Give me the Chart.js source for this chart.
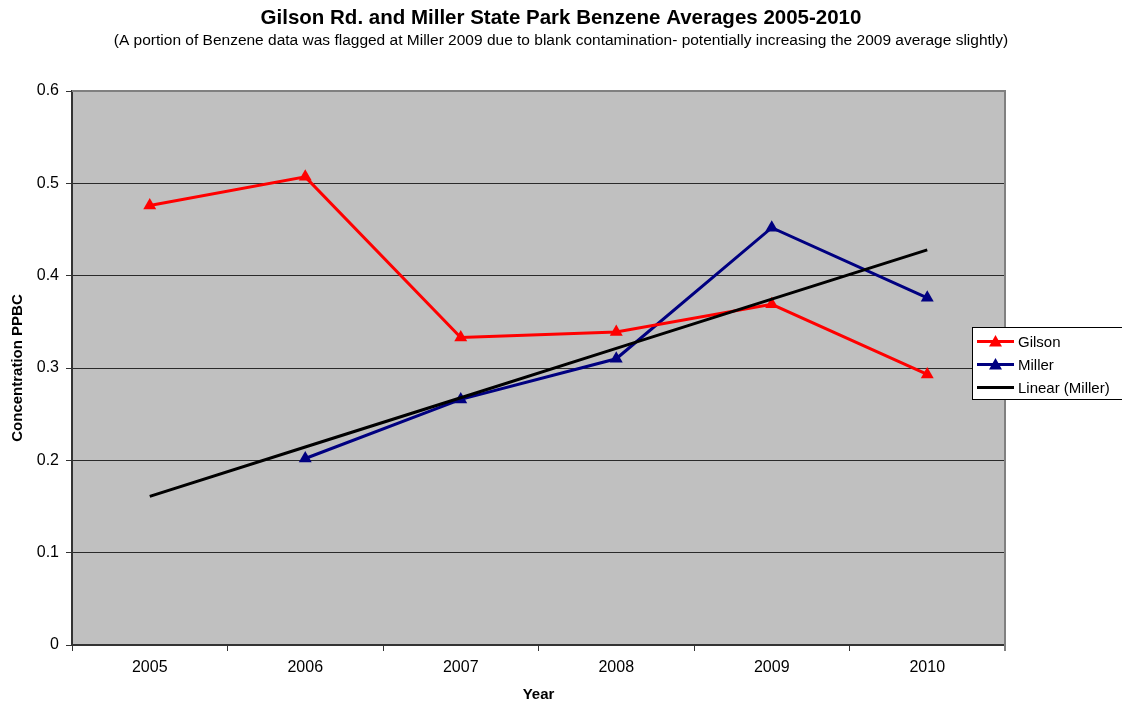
<!DOCTYPE html>
<html>
<head>
<meta charset="utf-8">
<title>Gilson Rd. and Miller State Park Benzene Averages 2005-2010</title>
<script src="https://cdn.jsdelivr.net/npm/chart.js@4/dist/chart.umd.min.js"></script>
<style>
  html, body { margin: 0; padding: 0; background: #ffffff; }
  #wrap { position: relative; width: 1122px; height: 704px; }
</style>
</head>
<body>
<div id="wrap"><canvas id="chart" width="1122" height="704"></canvas></div>
<script>
// Annual benzene averages (ppbC)
const years = ['2005', '2006', '2007', '2008', '2009', '2010'];
const gilson = [0.476, 0.507, 0.333, 0.339, 0.369, 0.293];
const miller = [null, 0.202, 0.266, 0.310, 0.452, 0.376];
const yTicks = [0, 0.1, 0.2, 0.3, 0.4, 0.5, 0.6];

// Least-squares line through the Miller averages, evaluated at every year
function linearFit(values) {
  const pts = values.map((v, i) => [i + 1, v]).filter(p => p[1] !== null);
  const n = pts.length;
  const mx = pts.reduce((s, p) => s + p[0], 0) / n;
  const my = pts.reduce((s, p) => s + p[1], 0) / n;
  let sxy = 0, sxx = 0;
  pts.forEach(p => { sxy += (p[0] - mx) * (p[1] - my); sxx += (p[0] - mx) * (p[0] - mx); });
  const slope = sxy / sxx;
  const icpt = my - slope * mx;
  return values.map((v, i) => icpt + slope * (i + 1));
}
const millerTrend = linearFit(miller);

const FONT = "'Liberation Sans', Arial, Helvetica, sans-serif";

// Grey plot area with a thin grey frame on the top and right
const plotBackground = {
  id: 'plotBackground',
  beforeDraw(chart) {
    const { ctx, chartArea: a } = chart;
    ctx.save();
    ctx.fillStyle = '#c0c0c0';
    ctx.fillRect(a.left, a.top, a.right - a.left, a.bottom - a.top);
    ctx.restore();
  },
  afterDatasetsDraw(chart) {
    const { ctx, chartArea: a } = chart;
    ctx.save();
    ctx.strokeStyle = '#808080';
    ctx.lineWidth = 2;
    ctx.beginPath();
    ctx.moveTo(a.left, a.top);
    ctx.lineTo(a.right, a.top);
    ctx.lineTo(a.right, a.bottom + 6);
    ctx.stroke();
    ctx.restore();
  }
};

// Boxed legend to the right of the plot
const boxedLegend = {
  id: 'boxedLegend',
  afterDraw(chart) {
    const { ctx } = chart;
    const items = chart.data.datasets.map(ds => ({
      text: ds.label, color: ds.borderColor, marker: ds.pointRadius > 0
    }));
    const x0 = 972.5, y0 = 327.5, w = 160, rowH = 23;
    ctx.save();
    ctx.fillStyle = '#ffffff';
    ctx.fillRect(x0, y0, w, 72);
    ctx.strokeStyle = '#000000';
    ctx.lineWidth = 1;
    ctx.strokeRect(x0, y0, w, 72);
    ctx.font = '15px ' + FONT;
    ctx.textBaseline = 'middle';
    ctx.textAlign = 'left';
    items.forEach((it, i) => {
      const cy = y0 + 14 + i * rowH;
      ctx.strokeStyle = it.color;
      ctx.lineWidth = 3;
      ctx.beginPath();
      ctx.moveTo(977, cy);
      ctx.lineTo(1014, cy);
      ctx.stroke();
      if (it.marker) {
        ctx.fillStyle = it.color;
        ctx.beginPath();
        ctx.moveTo(995.5, cy - 6.5);
        ctx.lineTo(1002, cy + 5);
        ctx.lineTo(989, cy + 5);
        ctx.closePath();
        ctx.fill();
      }
      ctx.fillStyle = '#000000';
      ctx.fillText(it.text, 1018, cy + 1);
    });
    ctx.restore();
  }
};

new Chart(document.getElementById('chart'), {
  type: 'line',
  data: {
    labels: years,
    datasets: [
      {
        label: 'Gilson',
        data: gilson,
        borderColor: '#ff0000',
        backgroundColor: '#ff0000',
        borderWidth: 3,
        pointStyle: 'triangle',
        pointRadius: 7.5,
        pointBorderWidth: 0,
        tension: 0,
        order: 2
      },
      {
        label: 'Miller',
        data: miller,
        borderColor: '#000080',
        backgroundColor: '#000080',
        borderWidth: 3,
        pointStyle: 'triangle',
        pointRadius: 7.5,
        pointBorderWidth: 0,
        tension: 0,
        order: 3
      },
      {
        label: 'Linear (Miller)',
        data: millerTrend,
        borderColor: '#000000',
        backgroundColor: '#000000',
        borderWidth: 3,
        pointRadius: 0,
        tension: 0,
        order: 1
      }
    ]
  },
  options: {
    responsive: false,
    animation: false,
    layout: { padding: 0 },
    plugins: {
      legend: { display: false },
      tooltip: { enabled: false },
      title: {
        display: true,
        text: 'Gilson Rd. and Miller State Park Benzene Averages 2005-2010',
        color: '#000000',
        font: { family: FONT, size: 20.5, weight: 'bold', lineHeight: 1 },
        padding: { top: 8, bottom: 0 }
      },
      subtitle: {
        display: true,
        text: '(A portion of Benzene data was flagged at Miller 2009 due to blank contamination- potentially increasing the 2009 average slightly)',
        color: '#000000',
        font: { family: FONT, size: 15.5, lineHeight: 1 },
        padding: { top: 4, bottom: 43 }
      }
    },
    scales: {
      x: {
        offset: true,
        grid: {
          offset: true,
          drawOnChartArea: false,
          drawTicks: true,
          tickLength: 6,
          color: '#333333',
          lineWidth: 1
        },
        border: { color: '#333333', width: 2 },
        ticks: {
          color: '#000000',
          font: { family: FONT, size: 16 },
          padding: 7,
          maxRotation: 0
        },
        title: {
          display: true,
          text: 'Year',
          color: '#000000',
          font: { family: FONT, size: 15, weight: 'bold' },
          padding: { top: 0, bottom: 0 }
        },
        afterFit(scale) { scale.height = 59; }
      },
      y: {
        min: 0,
        max: 0.6,
        afterBuildTicks(scale) { scale.ticks = yTicks.map(v => ({ value: v })); },
        grid: {
          color: ctx => (ctx.tick && ctx.tick.value >= 0.6 ? '#808080' : '#2a2a2a'),
          tickColor: '#333333',
          lineWidth: 1,
          tickLength: 6
        },
        border: { color: '#333333', width: 2 },
        ticks: {
          color: '#000000',
          font: { family: FONT, size: 16 },
          padding: 7,
          callback: v => (v === 0 ? '0' : Number(v).toFixed(1))
        },
        title: {
          display: true,
          text: 'Concentration PPBC',
          color: '#000000',
          font: { family: FONT, size: 15, weight: 'bold' },
          padding: { top: 9, bottom: 0 }
        },
        afterFit(scale) { scale.width = 72; }
      },
      // empty right-hand strip that holds the legend
      side: {
        position: 'right',
        display: true,
        min: 0,
        max: 0.6,
        grid: { display: false, drawOnChartArea: false },
        border: { display: false },
        ticks: { display: false },
        afterFit(scale) { scale.width = 117; }
      }
    }
  },
  plugins: [plotBackground, boxedLegend]
});
</script>
</body>
</html>
